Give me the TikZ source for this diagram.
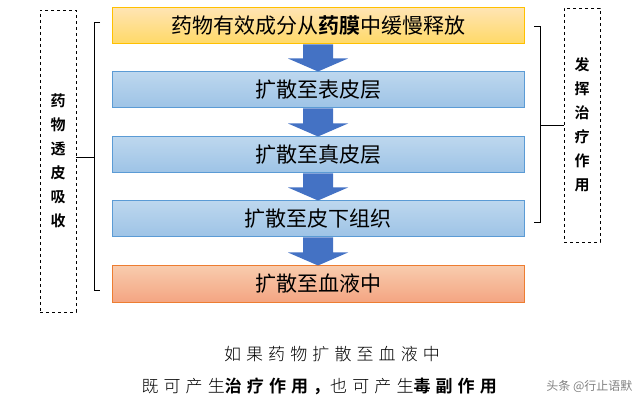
\documentclass[tikz,border=0pt]{standalone}
\usepackage{fontspec}
\newfontfamily\cjk{Noto Sans CJK SC}
\newfontfamily\cjkb{Noto Sans CJK SC Bold}
\newfontfamily\cjkl[LetterSpace=30]{Noto Sans CJK SC Light}
\newfontfamily\cjklb[LetterSpace=30]{Noto Sans CJK SC Bold}
\begin{document}
\begin{tikzpicture}[x=1pt,y=-1pt,
  stepbox/.style={line width=1pt,minimum width=412pt,minimum height=36pt,inner sep=0pt,font=\cjk\fontsize{21}{21}\selectfont},
  dbox/.style={draw,dashed,line width=0.8pt,minimum width=36pt,inner sep=0pt,font=\cjkb\fontsize{15}{24}\selectfont,align=center}]
\useasboundingbox (0,0) rectangle (640,406);
\definecolor{yel}{HTML}{FFD966}\definecolor{blu1}{HTML}{BDD7EE}\definecolor{blu2}{HTML}{9DC3E6}
\definecolor{org1}{HTML}{F8CBAD}\definecolor{org2}{HTML}{F4A582}\definecolor{arr}{HTML}{4472C4}
\node[stepbox, top color=yellow!30!orange!30, bottom color=yel, draw={rgb,255:red,255;green,192;blue,0}] (b1) at (318,26) {药物有效成分从{\cjkb 药膜}中缓慢释放};
\node[stepbox, top color=blu1, bottom color=blu2, draw={rgb,255:red,91;green,155;blue,213}] (b2) at (318,90) {扩散至表皮层};
\node[stepbox, top color=blu1, bottom color=blu2, draw={rgb,255:red,91;green,155;blue,213}] (b3) at (318,155) {扩散至真皮层};
\node[stepbox, top color=blu1, bottom color=blu2, draw={rgb,255:red,91;green,155;blue,213}] (b4) at (318,219) {扩散至皮下组织};
\node[stepbox, top color=org1, bottom color=org2, draw={rgb,255:red,237;green,125;blue,49}] (b5) at (318,284) {扩散至血液中};
\foreach \a/\b in {b1/b2,b2/b3,b3/b4,b4/b5}{
  \path (\a.south) coordinate (s) (\b.north) coordinate (e);
  \fill[arr] ([xshift=-15pt]s) -- ([xshift=15pt]s) -- ([xshift=15pt,yshift=13pt]e) -- ([xshift=30pt,yshift=13pt]e) -- (e) -- ([xshift=-30pt,yshift=13pt]e) -- ([xshift=-15pt,yshift=13pt]e) -- cycle;
}
\node[dbox,minimum height=302pt] (L) at (58,161) {药\\物\\透\\皮\\吸\\收};
\node[dbox,minimum height=234pt] (R) at (582,125) {发\\挥\\治\\疗\\作\\用};
\draw[line width=0.8pt] (100,22) -- (94,22) -- (94,290) -- (100,290);
\draw[line width=0.8pt] (94,157) -- (L.east|-0,157);
\draw[line width=0.8pt] (534,26) -- (540,26) -- (540,222) -- (534,222);
\draw[line width=0.8pt] (540,125) -- (R.west|-0,125);
\node[font=\cjkl\fontsize{17}{17}\selectfont] (t1) at (332,354) {如果药物扩散至血液中};
\node[font=\cjkl\fontsize{17}{17}\selectfont,anchor=west] (t2) at (138,386) {既可产生{\cjklb 治疗作用，}也可产生{\cjklb 毒副作用}};
\node[font=\cjk\fontsize{12}{12}\selectfont,text=gray,anchor=east] (wm) at (636,386) {头条 @行止语默};
\end{tikzpicture}
\end{document}
